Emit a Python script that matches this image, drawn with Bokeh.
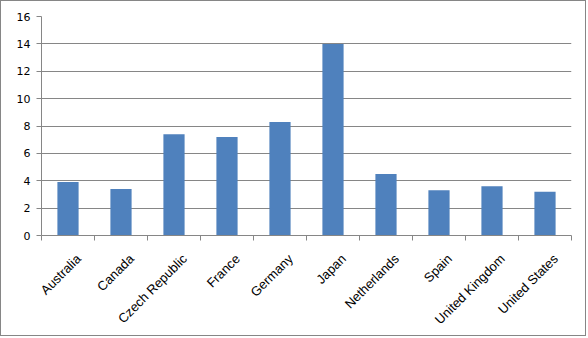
import math
from bokeh.plotting import figure
from bokeh.models import FixedTicker, Range1d, ColumnDataSource
from bokeh.embed import file_html
from bokeh.resources import INLINE

countries = ["Australia", "Canada", "Czech Republic", "France", "Germany",
             "Japan", "Netherlands", "Spain", "United Kingdom", "United States"]
values = [3.9, 3.4, 7.4, 7.2, 8.3, 14.0, 4.5, 3.3, 3.6, 3.2]
y_ticks = [0, 2, 4, 6, 8, 10, 12, 14, 16]

xs = [i + 0.5 for i in range(len(countries))]
label_xs = [x + 0.2 for x in xs]
src = ColumnDataSource(dict(x=xs, top=values))

p = figure(width=586, height=336, output_backend="svg", toolbar_location=None,
           x_range=Range1d(0, len(countries)), y_range=Range1d(0, 16),
           min_border_left=40, min_border_right=16, min_border_top=15, min_border_bottom=102,
           styles={"border": "1px solid #868686"})
p.outline_line_color = None
p.background_fill_color = "white"
p.border_fill_color = "white"

p.vbar(x="x", top="top", width=0.4, source=src, fill_color="#4F81BD", line_color=None)

grey = "#868686"
font = "Liberation Sans"

p.xgrid.visible = False
p.ygrid.grid_line_color = grey
p.ygrid.grid_line_width = 1
p.ygrid.ticker = FixedTicker(ticks=y_ticks)

p.yaxis.ticker = FixedTicker(ticks=y_ticks)
p.yaxis.axis_line_color = grey
p.yaxis.major_tick_line_color = grey
p.yaxis.major_tick_out = 5
p.yaxis.major_tick_in = 0
p.yaxis.minor_tick_line_color = None
p.yaxis.major_label_text_font = "DejaVu Sans"
p.yaxis.major_label_text_font_size = "11px"
p.yaxis.major_label_text_color = "black"
p.yaxis.major_label_standoff = 6

p.xaxis.ticker = FixedTicker(ticks=label_xs, minor_ticks=list(range(len(countries) + 1)))
p.xaxis.major_label_overrides = {x: c for x, c in zip(label_xs, countries)}
p.xaxis.axis_line_color = grey
p.xaxis.major_tick_line_color = None
p.xaxis.major_tick_out = 0
p.xaxis.major_tick_in = 0
p.xaxis.minor_tick_line_color = grey
p.xaxis.minor_tick_out = 5
p.xaxis.minor_tick_in = 0
p.xaxis.major_label_orientation = math.pi / 4
p.xaxis.major_label_text_font = font
p.xaxis.major_label_text_font_size = "13px"
p.xaxis.major_label_text_color = "black"
p.xaxis.major_label_standoff = 16

open("out.html", "w").write(file_html(p, INLINE))
